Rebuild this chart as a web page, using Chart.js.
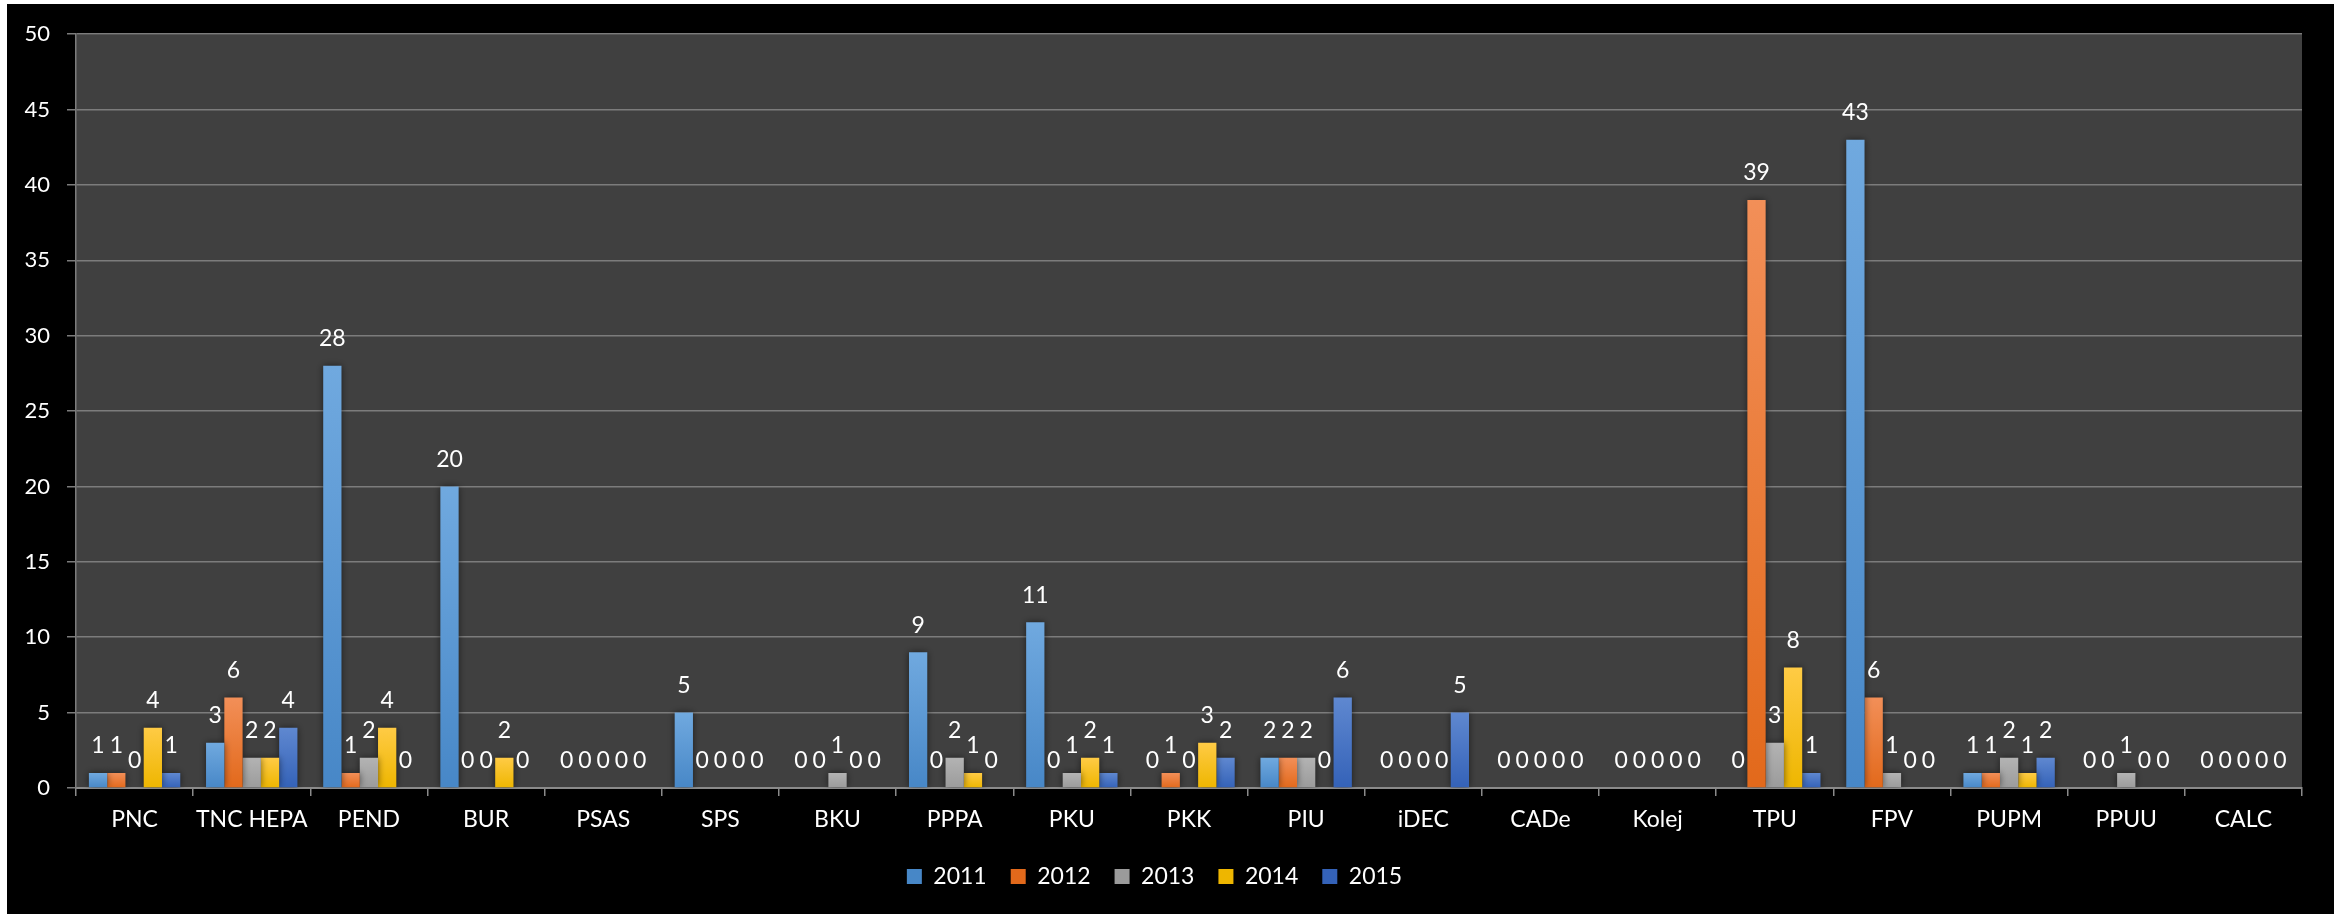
<!DOCTYPE html>
<html>
<head>
<meta charset="utf-8">
<title>Jumlah mengikut tahun</title>
<script src="https://cdn.jsdelivr.net/npm/chart.js@4.4.1/dist/chart.umd.min.js"></script>
<style>
  html, body { margin: 0; padding: 0; background: #ffffff; }
  #wrap { position: absolute; left: 7px; top: 4px; width: 2327px; height: 910px; background: #000000; }
</style>
</head>
<body>
<div id="wrap"><canvas id="chart" width="2327" height="910"></canvas></div>
<script>
// categories along the x axis
const categories = ['PNC', 'TNC HEPA', 'PEND', 'BUR', 'PSAS', 'SPS', 'BKU', 'PPPA', 'PKU', 'PKK',
  'PIU', 'iDEC', 'CADe', 'Kolej', 'TPU', 'FPV', 'PUPM', 'PPUU', 'CALC'];

// one array per year
const y2011 = [1, 3, 28, 20, 0, 5, 0, 9, 11, 0, 2, 0, 0, 0, 0, 43, 1, 0, 0];
const y2012 = [1, 6, 1, 0, 0, 0, 0, 0, 0, 1, 2, 0, 0, 0, 39, 6, 1, 0, 0];
const y2013 = [0, 2, 2, 0, 0, 0, 1, 2, 1, 0, 2, 0, 0, 0, 3, 1, 2, 1, 0];
const y2014 = [4, 2, 4, 2, 0, 0, 0, 1, 2, 3, 0, 0, 0, 0, 8, 0, 1, 0, 0];
const y2015 = [1, 4, 0, 0, 0, 0, 0, 0, 1, 2, 6, 5, 0, 0, 1, 0, 2, 0, 0];

const yearLabels = ['2011', '2012', '2013', '2014', '2015'];
const yTicks = [0, 5, 10, 15, 20, 25, 30, 35, 40, 45, 50];

const FONT = 'Lato, "Open Sans", sans-serif';

// top / bottom colours of each bar gradient
const palette = [
  ['#70a9df', '#4787c7'],
  ['#f28f58', '#e2691b'],
  ['#b3b3b3', '#9b9b9b'],
  ['#ffcb45', '#eeb600'],
  ['#5f88d0', '#3462b8']
];

function barFill(top, bottom) {
  return function (ctx) {
    const chart = ctx.chart;
    const y = chart.scales.y;
    if (!y || ctx.type !== 'data') return bottom;
    const v = ctx.raw;
    const y0 = y.getPixelForValue(v);
    const y1 = y.getPixelForValue(0);
    if (!isFinite(y0) || y1 - y0 < 1) return bottom;
    const g = chart.ctx.createLinearGradient(0, y0, 0, y1);
    g.addColorStop(0, top);
    g.addColorStop(1, bottom);
    return g;
  };
}

const series = [y2011, y2012, y2013, y2014, y2015];

const datasets = series.map((values, i) => ({
  label: yearLabels[i],
  data: values,
  backgroundColor: barFill(palette[i][0], palette[i][1]),
  borderWidth: 0,
  categoryPercentage: 0.78,
  barPercentage: 1.0
}));

// dark grey plot area behind the bars
const plotBackground = {
  id: 'plotBackground',
  beforeDraw(chart) {
    const { ctx, chartArea: a } = chart;
    ctx.save();
    ctx.fillStyle = '#404040';
    ctx.fillRect(a.left, a.top, a.right - a.left, a.bottom - a.top);
    ctx.restore();
  }
};

// soft shadow on the bars, then the value written above each one
const barShadowAndValues = {
  id: 'barShadowAndValues',
  beforeDatasetsDraw(chart) {
    const ctx = chart.ctx;
    ctx.save();
    ctx.shadowColor = 'rgba(0, 0, 0, 0.55)';
    ctx.shadowBlur = 7;
    ctx.shadowOffsetX = 0;
    ctx.shadowOffsetY = 0;
  },
  afterDatasetsDraw(chart) {
    const ctx = chart.ctx;
    ctx.restore();
    ctx.save();
    ctx.fillStyle = '#ffffff';
    ctx.font = '23px ' + FONT;
    ctx.textAlign = 'center';
    ctx.textBaseline = 'middle';
    chart.data.datasets.forEach((ds, di) => {
      const meta = chart.getDatasetMeta(di);
      meta.data.forEach((bar, i) => {
        ctx.fillText(String(ds.data[i]), bar.x, bar.y - 27);
      });
    });
    ctx.restore();
  }
};

new Chart(document.getElementById('chart'), {
  type: 'bar',
  data: { labels: categories, datasets: datasets },
  options: {
    responsive: false,
    animation: false,
    layout: { padding: { left: 0, top: 29, right: 32, bottom: 16 } },
    plugins: {
      tooltip: { enabled: false },
      legend: {
        position: 'bottom',
        labels: {
          color: '#ffffff',
          font: { family: FONT, size: 23 },
          boxWidth: 15,
          boxHeight: 15,
          padding: 24,
          generateLabels(chart) {
            return chart.data.datasets.map((ds, i) => ({
              text: ds.label,
              fillStyle: palette[i][1],
              strokeStyle: palette[i][1],
              lineWidth: 0,
              fontColor: '#ffffff',
              datasetIndex: i,
              hidden: false
            }));
          }
        }
      }
    },
    scales: {
      x: {
        afterFit(scale) { scale.height = 53; },
        grid: {
          offset: true,
          drawOnChartArea: false,
          drawTicks: true,
          tickLength: 8,
          color: '#8a8a8a',
          lineWidth: 1.5
        },
        border: { display: true, color: '#8a8a8a', width: 2 },
        ticks: {
          color: '#ffffff',
          font: { family: FONT, size: 23 },
          padding: 10,
          maxRotation: 0,
          autoSkip: false
        }
      },
      y: {
        min: 0,
        max: 50,
        afterFit(scale) { scale.width = 69; },
        afterBuildTicks(scale) { scale.ticks = yTicks.map(v => ({ value: v })); },
        grid: {
          color: '#7c7c7c',
          lineWidth: 1.5,
          drawTicks: true,
          tickLength: 9
        },
        border: { display: true, color: '#7c7c7c', width: 1.5 },
        ticks: {
          color: '#ffffff',
          font: { family: FONT, size: 22 },
          padding: 17
        }
      }
    }
  },
  plugins: [plotBackground, barShadowAndValues]
});
</script>
</body>
</html>
